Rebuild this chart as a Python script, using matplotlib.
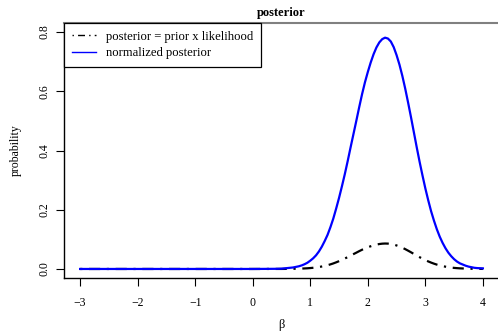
import numpy as np
import matplotlib
matplotlib.use("Agg")
import matplotlib.pyplot as plt

# valores
beta = [-3.0, -2.0, -1.0, 0.0, 0.4,
        0.50, 0.55, 0.60, 0.65, 0.70, 0.75, 0.80, 0.85, 0.90, 0.95,
        1.00, 1.05, 1.10, 1.15, 1.20, 1.25, 1.30, 1.35, 1.40, 1.45,
        1.50, 1.55, 1.60, 1.65, 1.70, 1.75, 1.80, 1.85, 1.90, 1.95,
        2.00, 2.05, 2.10, 2.15, 2.20, 2.25, 2.30, 2.35, 2.40, 2.45,
        2.50, 2.55, 2.60, 2.65, 2.70, 2.75, 2.80, 2.85, 2.90, 2.95,
        3.00, 3.05, 3.10, 3.15, 3.20, 3.25, 3.30, 3.35, 3.40, 3.45,
        3.50, 3.55, 3.60, 3.65, 3.70, 3.75, 3.80, 3.85, 3.90, 3.95,
        4.00]

post_norm = [0.0, 0.0, 0.0, 0.0, 0.0005,
             0.001, 0.002, 0.003, 0.004, 0.005, 0.007, 0.009, 0.012, 0.016, 0.021,
             0.028, 0.036, 0.046, 0.059, 0.075, 0.094, 0.115, 0.141, 0.170, 0.204,
             0.240, 0.279, 0.320, 0.364, 0.410, 0.455, 0.500, 0.546, 0.590, 0.630,
             0.665, 0.697, 0.725, 0.748, 0.765, 0.776, 0.781, 0.778, 0.768, 0.749,
             0.722, 0.690, 0.652, 0.609, 0.562, 0.513, 0.462, 0.411, 0.362, 0.316,
             0.272, 0.232, 0.195, 0.163, 0.134, 0.109, 0.088, 0.070, 0.055, 0.043,
             0.033, 0.025, 0.019, 0.015, 0.011, 0.008, 0.006, 0.004, 0.003, 0.0025,
             0.002]

post_raw = [0.0, 0.0, 0.0, 0.0, 0.0001,
            0.0001, 0.0002, 0.0003, 0.0004, 0.0006, 0.0008, 0.0010, 0.0013, 0.0018, 0.0023,
            0.0031, 0.0040, 0.0051, 0.0065, 0.0083, 0.0103, 0.0127, 0.0155, 0.0187, 0.0224,
            0.0264, 0.0307, 0.0352, 0.0400, 0.0451, 0.0501, 0.0550, 0.0601, 0.0649, 0.0693,
            0.0732, 0.0767, 0.0798, 0.0823, 0.0842, 0.0854, 0.0859, 0.0856, 0.0845, 0.0824,
            0.0794, 0.0759, 0.0717, 0.0670, 0.0618, 0.0564, 0.0508, 0.0452, 0.0398, 0.0348,
            0.0299, 0.0255, 0.0215, 0.0179, 0.0147, 0.0120, 0.0097, 0.0077, 0.0061, 0.0047,
            0.0036, 0.0028, 0.0021, 0.0017, 0.0012, 0.0009, 0.0007, 0.0004, 0.0003, 0.0003,
            0.0002]

x_ticks = [-3, -2, -1, 0, 1, 2, 3, 4]
y_ticks = [0.0, 0.2, 0.4, 0.6, 0.8]

plt.rcParams['font.family'] = ['Liberation Serif', 'DejaVu Serif']

fig = plt.figure(figsize=(4.98, 3.35), dpi=100)
ax = fig.add_axes([64/498, 1 - 278/335, 435/498, 255/335])

ax.plot(beta, post_raw, color='black', lw=1.6, linestyle=(0, (1, 3, 5, 3)),
        label='posterior = prior x likelihood')
ax.plot(beta, post_norm, color='blue', lw=1.6, solid_joinstyle='round',
        label='normalized posterior')

ax.set_xlim(-3.28, 4.28)
ax.set_ylim(-0.0305, 0.8305)

ax.set_xticks(x_ticks)
ax.set_yticks(y_ticks)
ax.set_yticklabels([f'{v:.1f}' for v in y_ticks], rotation=90, va='center')
ax.tick_params(direction='out', length=6, width=0.8, labelsize=8.5, pad=4)
ax.tick_params(axis='x', pad=8)

ax.spines['right'].set_visible(False)
ax.spines['top'].set_color('gray')
ax.spines['top'].set_linewidth(1.5)
ax.spines['left'].set_linewidth(1.0)
ax.spines['bottom'].set_linewidth(1.0)

ax.set_title('posterior', fontsize=9, fontweight='bold', pad=5)
ax.set_xlabel('β', fontsize=9, labelpad=7)
ax.set_ylabel('probability', fontsize=8.5, labelpad=12)

leg = ax.legend(loc='upper left', borderaxespad=0, fancybox=False,
                edgecolor='black', framealpha=1, fontsize=9.1,
                handlelength=1.9, handletextpad=0.85, labelspacing=0.35,
                borderpad=0.6)
leg.get_frame().set_linewidth(0.9)
for ln in leg.get_lines():
    ln.set_linewidth(1.0)

fig.savefig('out.png', dpi=100)
